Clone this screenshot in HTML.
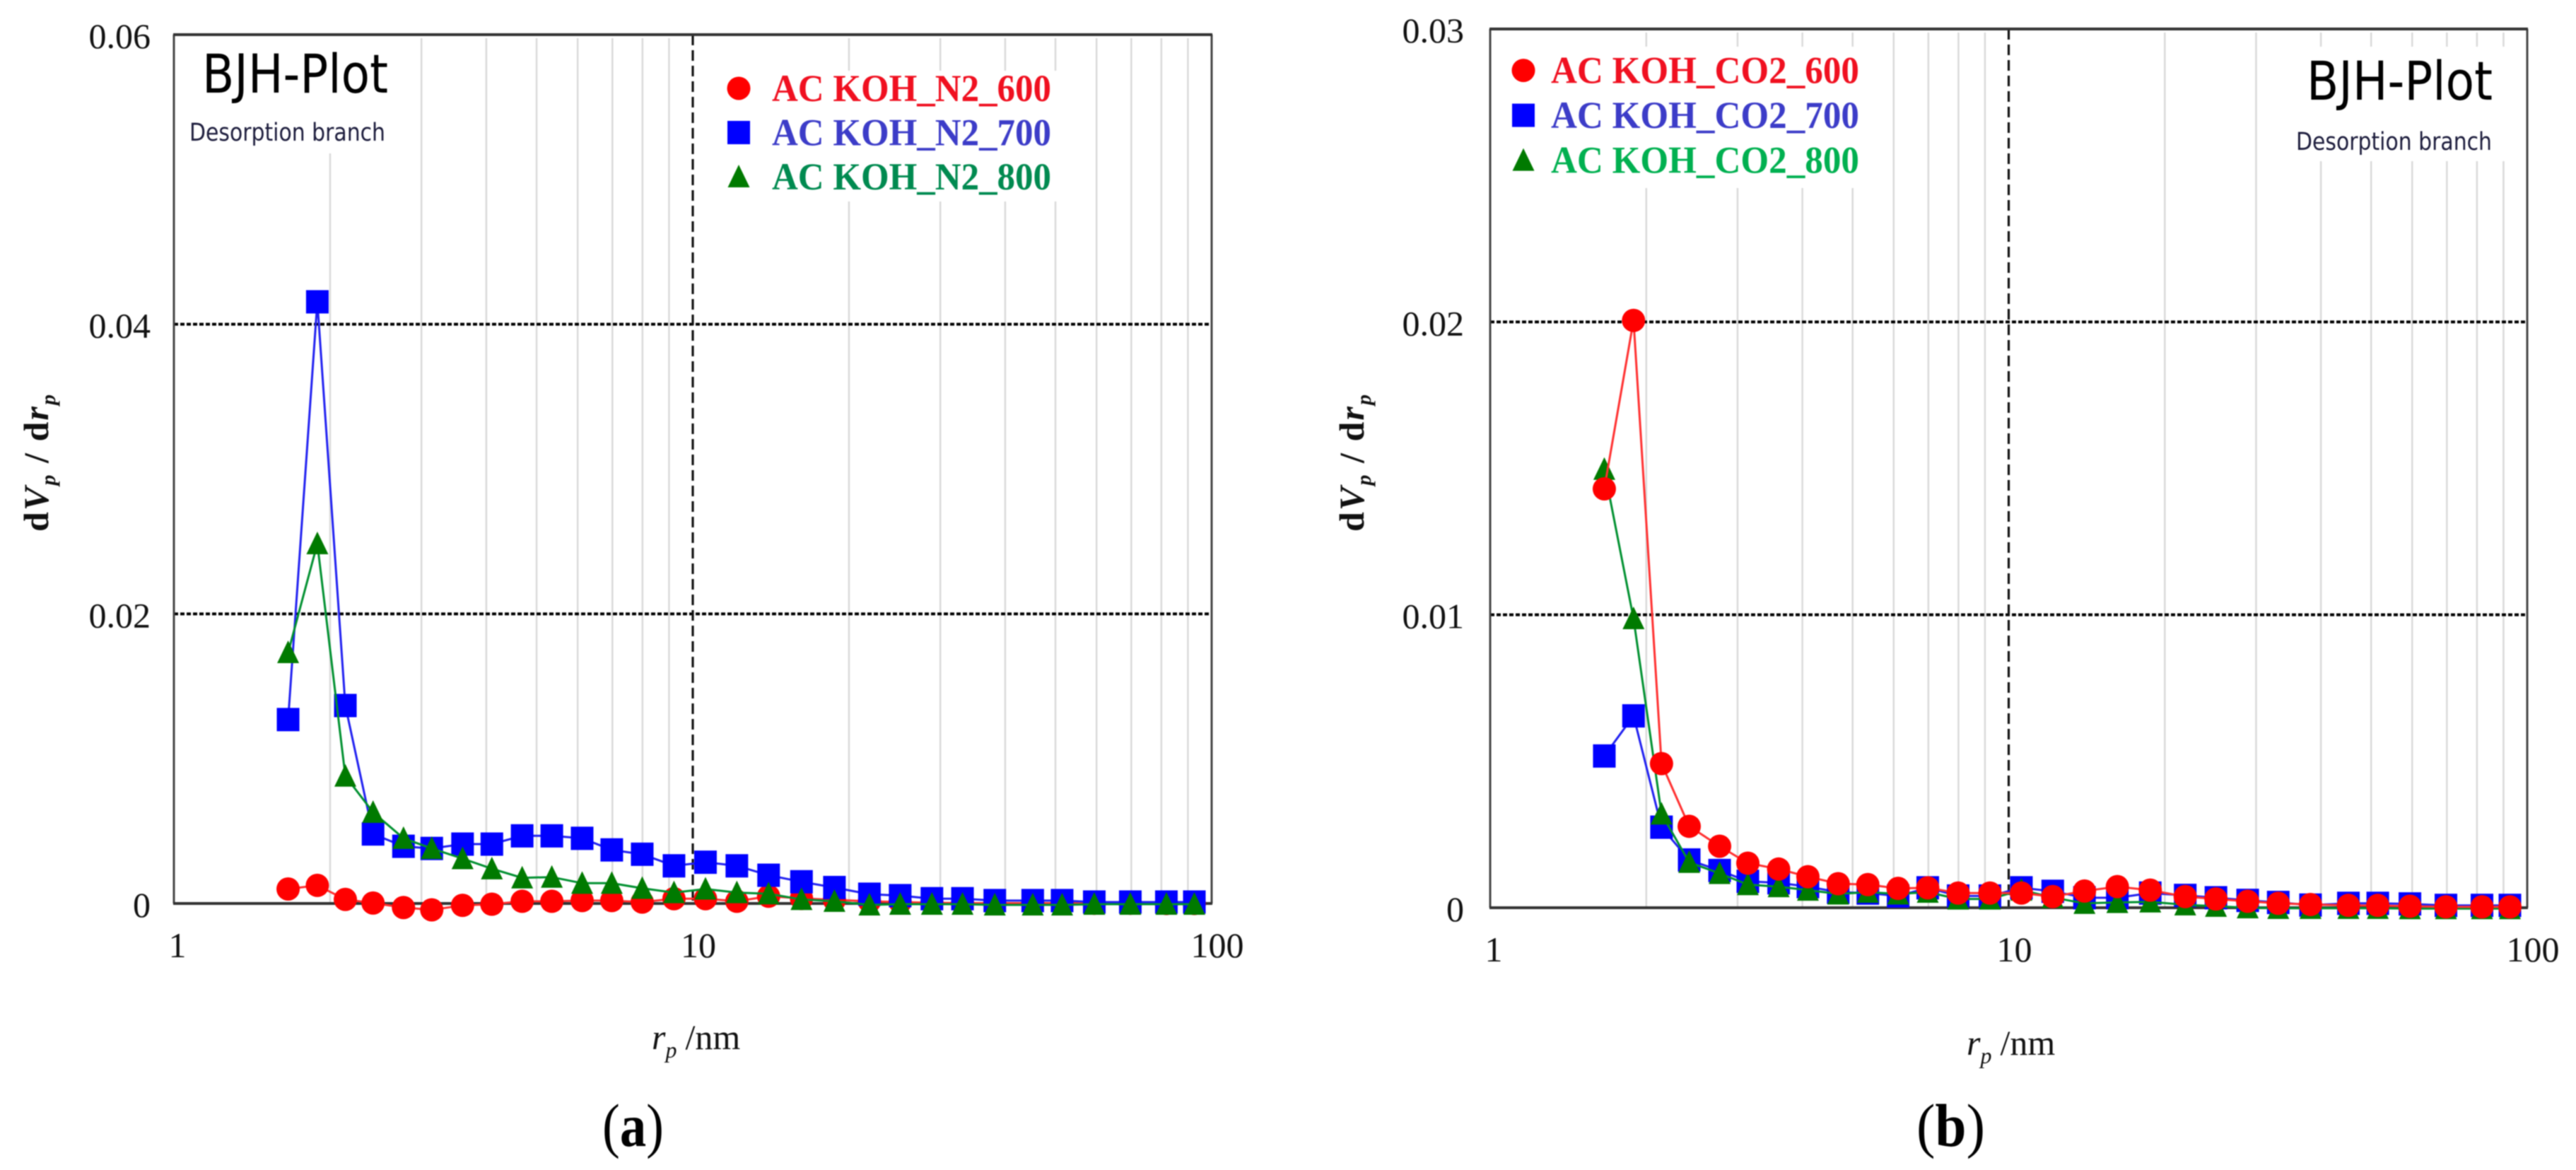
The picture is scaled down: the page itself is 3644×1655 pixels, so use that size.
<!DOCTYPE html>
<html lang="en">
<head>
<meta charset="utf-8">
<title>BJH-Plot pore size distributions</title>
<style>
html,body{margin:0;padding:0;background:#fff;}
body{width:3644px;height:1655px;overflow:hidden;}
#figure{display:block;filter:blur(0.8px);}
text{font-family:"Liberation Serif",serif;}
.sans{font-family:"DejaVu Sans","Liberation Sans",sans-serif;}
.tick{font-size:50px;fill:#111;}
.legend{font-size:54px;font-weight:bold;}
.caption{font-size:86px;fill:#000;}
</style>
</head>
<body>
<svg id="figure" xmlns="http://www.w3.org/2000/svg" width="3644" height="1655" viewBox="0 0 3644 1655">
  <rect width="3644" height="1655" fill="#fff"/>
  <g id="panel-a"></g>
  <g id="panel-b"></g>

  <text class="caption" x="852" y="1621" textLength="87" lengthAdjust="spacingAndGlyphs">(<tspan font-weight="bold">a</tspan>)</text>
  <text class="caption" x="2711" y="1621" textLength="97" lengthAdjust="spacingAndGlyphs">(<tspan font-weight="bold">b</tspan>)</text>

  <text transform="translate(68,752) rotate(-90)" font-size="50" font-weight="bold" textLength="194" fill="#111">d<tspan font-style="italic">V</tspan><tspan font-style="italic" font-size="30" dy="10">p</tspan><tspan dy="-10" xml:space="preserve"> / d</tspan><tspan font-style="italic">r</tspan><tspan font-style="italic" font-size="30" dy="10">p</tspan></text>
  <text transform="translate(1929,752) rotate(-90)" font-size="50" font-weight="bold" textLength="194" fill="#111">d<tspan font-style="italic">V</tspan><tspan font-style="italic" font-size="30" dy="10">p</tspan><tspan dy="-10" xml:space="preserve"> / d</tspan><tspan font-style="italic">r</tspan><tspan font-style="italic" font-size="30" dy="10">p</tspan></text>

  <text x="922" y="1484" font-size="50" fill="#111"><tspan font-style="italic">r</tspan><tspan font-style="italic" font-size="32" dy="12">p</tspan><tspan dy="-12" dx="12">/nm</tspan></text>
  <text x="2782" y="1492" font-size="50" fill="#111"><tspan font-style="italic">r</tspan><tspan font-style="italic" font-size="32" dy="12">p</tspan><tspan dy="-12" dx="12">/nm</tspan></text>
</svg>

<script>
// Pore radius categories shared by both panels (nm)
const poreRadius = [1.66,1.89,2.14,2.42,2.77,3.14,3.6,4.1,4.69,5.35,6.12,6.98,7.99,9.2,10.58,12.16,14,16.2,18.75,21.9,25.1,28.9,33.1,38.2,45.2,51.5,59.4,69.7,81.8,92.6];

// Panel (a) series
const n2Series600 = [0.001,0.00125,0.00028,0.00003,-0.00028,-0.00044,-0.00013,-0.00005,0.00015,0.00015,0.0002,0.0002,0.0001,0.00033,0.00033,0.00015,0.0005,0.00035,0.00025,0.00015,0.0001,0.00005,0.00003,0.00002,0.00002,0.00002,0.00001,0.00001,0,0];
const n2Series700 = [0.0127,0.04155,0.01367,0.0048,0.00395,0.0038,0.0041,0.0041,0.00467,0.00467,0.0045,0.0037,0.0034,0.0026,0.00285,0.0026,0.00195,0.0015,0.0011,0.00064,0.00054,0.00033,0.00033,0.0002,0.0002,0.0002,0.0001,0.0001,0.0001,0.0001];
const n2Series800 = [0.01733,0.02485,0.0088,0.0063,0.0045,0.0038,0.0031,0.0024,0.00177,0.00182,0.0014,0.0014,0.00105,0.00075,0.001,0.00075,0.00067,0.00028,0.00015,-0.0001,-0.00005,-0.00005,-0.00005,-0.0001,-0.0001,-0.0001,-0.00005,-0.00005,-0.00005,-0.00005];

// Panel (b) series
const co2Series600 = [0.0143,0.02005,0.00492,0.00278,0.0021,0.00152,0.00132,0.00106,0.00082,0.00079,0.00066,0.00068,0.0005,0.0005,0.0005,0.00038,0.00057,0.00072,0.0006,0.00038,0.0003,0.00022,0.00015,0.00011,0.00008,0.00008,0.00005,0.00003,0.00003,0.00003];
const co2Series700 = [0.00518,0.00655,0.00275,0.00163,0.00127,0.0009,0.00085,0.00072,0.00053,0.0005,0.0004,0.00068,0.0004,0.0004,0.00068,0.00056,0.00034,0.00034,0.0005,0.00042,0.00034,0.00025,0.00018,0.00009,0.00015,0.00015,0.00013,0.00008,0.00008,0.00008];
const co2Series800 = [0.01497,0.00987,0.0032,0.00155,0.00117,0.00079,0.00072,0.0006,0.00047,0.00053,0.00047,0.00053,0.0003,0.0003,0.0006,0.00035,0.00015,0.00018,0.0002,0.0001,0.00005,0,-0.00002,-0.00002,-0.00002,-0.00002,-0.00003,-0.00003,-0.00003,-0.00003];

// Axis ticks
const xTickValues = [1,10,100];
const xTickLabels = ['1','10','100'];
const yTickValuesA = [0,0.02,0.04,0.06];
const yTickLabelsA = ['0','0.02','0.04','0.06'];
const yTickValuesB = [0,0.01,0.02,0.03];
const yTickLabelsB = ['0','0.01','0.02','0.03'];
const minorDecadeSteps = [2,3,4,5,6,7,8,9];
const minorDecades = [1,10];

// Legend labels
const legendLabelsA = ['AC KOH_N2_600','AC KOH_N2_700','AC KOH_N2_800'];
const legendLabelsB = ['AC KOH_CO2_600','AC KOH_CO2_700','AC KOH_CO2_800'];

const SVGNS = 'http://www.w3.org/2000/svg';
const RED = '#ff0000', BLUE = '#0000ff', GREEN = '#007a00';

function make(parent, tag, attrs) {
  const el = document.createElementNS(SVGNS, tag);
  for (const k in attrs) el.setAttribute(k, attrs[k]);
  parent.appendChild(el);
  return el;
}

function drawMarker(group, shape, cx, cy, color, name) {
  let el;
  if (shape === 'circle') {
    el = make(group, 'circle', {cx: cx, cy: cy, r: 16.5, fill: color});
  } else if (shape === 'square') {
    el = make(group, 'rect', {x: cx - 16, y: cy - 16.5, width: 32, height: 33, fill: color});
  } else {
    el = make(group, 'polygon', {points: (cx) + ',' + (cy - 17) + ' ' + (cx + 15.5) + ',' + (cy + 15) + ' ' + (cx - 15.5) + ',' + (cy + 15), fill: color});
  }
  
  
  return el;
}

function drawPanel(p) {
  const root = document.getElementById(p.id);
  const xScale = v => p.left + (Math.log10(v) / 2) * (p.right - p.left);
  const yScale = v => p.bottom - (v / p.yMax) * (p.bottom - p.top);

  // minor log gridlines
  minorDecades.forEach(d => minorDecadeSteps.forEach(s => {
    const x = xScale(d * s);
    const g = make(root, 'line', {x1: x, x2: x, y1: p.top + 5, y2: p.bottom, stroke: '#d9d9d9', 'stroke-width': 2.5});
    
    
  }));

  // white boxes behind the annotation text
  p.masks.forEach(m => {
    const r = make(root, 'rect', {x: m[0], y: m[1], width: m[2], height: m[3], fill: '#fff'});
    
    
  });

  // major gridlines
  p.yTicks.forEach(v => {
    if (v === 0 || v === p.yMax) return;
    const y = yScale(v);
    const g = make(root, 'line', {x1: p.left, x2: p.right, y1: y, y2: y, stroke: '#000', 'stroke-width': 4, 'stroke-dasharray': '6 3'});
    
    
  });
  const x10 = xScale(10);
  const v10 = make(root, 'line', {x1: x10, x2: x10, y1: p.top, y2: p.bottom, stroke: '#111', 'stroke-width': 3.2, 'stroke-dasharray': '15 7'});
  
  

  // plot frame
  const sides = make(root, 'path', {d: 'M' + p.left + ' ' + p.bottom + 'V' + p.top + 'M' + p.right + ' ' + p.top + 'V' + p.bottom, stroke: '#444', 'stroke-width': 3, fill: 'none'});
  
  
  const topEdge = make(root, 'line', {x1: p.left - 1, x2: p.right + 1, y1: p.top, y2: p.top, stroke: '#333', 'stroke-width': 4});
  
  
  const xAxis = make(root, 'line', {x1: p.left - 1, x2: p.right + 1, y1: p.bottom, y2: p.bottom, stroke: '#333', 'stroke-width': 4});
  
  

  // tick labels
  p.yTicks.forEach((v, i) => {
    const t = make(root, 'text', {x: p.yLabelRight, y: yScale(v) + 19, 'text-anchor': 'end', class: 'tick'});
    t.textContent = p.yLabels[i];
    
    
  });
  xTickValues.forEach((v, i) => {
    const off = v === 1 ? 5 : 8;
    const t = make(root, 'text', {x: xScale(v) + off, y: p.bottom + 76, 'text-anchor': 'middle', class: 'tick'});
    t.textContent = xTickLabels[i];
    
    
  });

  // series
  p.series.forEach(s => {
    const g = make(root, 'g', {});
    
    
    const pts = s.values.map((v, i) => xScale(poreRadius[i]).toFixed(1) + ',' + yScale(v).toFixed(1)).join(' ');
    const line = make(g, 'polyline', {points: pts, fill: 'none', stroke: s.lineColor, 'stroke-width': 3});
    
    
    s.values.forEach((v, i) => drawMarker(g, s.shape, xScale(poreRadius[i]), yScale(v), s.color, s.name + '-point'));
  });

  // legend
  p.legend.labels.forEach((label, i) => {
    const y = p.legend.y0 + i * p.legend.dy;
    const s = p.legend.styles[i];
    const g = make(root, 'g', {});
    
    
    drawMarker(g, s.shape, p.legend.markerX, y - 1, s.color, 'legend-marker');
    const t = make(g, 'text', {x: p.legend.textX, y: y + 17, class: 'legend', fill: s.textColor, textLength: p.legend.width, lengthAdjust: 'spacingAndGlyphs'});
    t.textContent = label;
    
    
  });

  // annotations
  const title = make(root, 'text', {x: p.titleX, y: p.titleY, class: 'sans', 'font-size': 76, fill: '#000', textLength: 263, lengthAdjust: 'spacingAndGlyphs'});
  title.textContent = 'BJH-Plot';
  
  
  const sub = make(root, 'text', {x: p.subX, y: p.subY, class: 'sans', 'font-size': 35, fill: '#1c1c3c', textLength: 277, lengthAdjust: 'spacingAndGlyphs'});
  sub.textContent = 'Desorption branch';
  
  
}

drawPanel({
  id: 'panel-a', left: 246, right: 1714, top: 49, bottom: 1278, yMax: 0.06,
  yTicks: yTickValuesA, yLabels: yTickLabelsA, yLabelRight: 213,
  masks: [[262, 54, 330, 163], [1020, 100, 480, 185]],
  series: [
    {name: 'series-n2-600', values: n2Series600, shape: 'circle', color: RED, lineColor: '#ff3030'},
    {name: 'series-n2-700', values: n2Series700, shape: 'square', color: BLUE, lineColor: '#2020f0'},
    {name: 'series-n2-800', values: n2Series800, shape: 'triangle', color: GREEN, lineColor: '#009030'}
  ],
  legend: {labels: legendLabelsA, y0: 126, dy: 62.5, markerX: 1045, textX: 1092, width: 395,
    styles: [{shape: 'circle', color: RED, textColor: '#f01020'}, {shape: 'square', color: BLUE, textColor: '#3c3cc8'}, {shape: 'triangle', color: GREEN, textColor: '#008a50'}]},
  titleX: 286, titleY: 131, subX: 268, subY: 199
});

drawPanel({
  id: 'panel-b', left: 2108, right: 3575, top: 41, bottom: 1284, yMax: 0.03,
  yTicks: yTickValuesB, yLabels: yTickLabelsB, yLabelRight: 2071,
  masks: [[2135, 66, 510, 200], [3240, 66, 322, 162]],
  series: [
    {name: 'series-co2-700', values: co2Series700, shape: 'square', color: BLUE, lineColor: '#2020f0'},
    {name: 'series-co2-800', values: co2Series800, shape: 'triangle', color: GREEN, lineColor: '#009030'},
    {name: 'series-co2-600', values: co2Series600, shape: 'circle', color: RED, lineColor: '#ff3030'}
  ],
  legend: {labels: legendLabelsB, y0: 100.6, dy: 63.5, markerX: 2155, textX: 2194, width: 436,
    styles: [{shape: 'circle', color: RED, textColor: '#f01020'}, {shape: 'square', color: BLUE, textColor: '#3c3cc8'}, {shape: 'triangle', color: GREEN, textColor: '#00b050'}]},
  titleX: 3263, titleY: 141, subX: 3248, subY: 212
});
</script>
</body>
</html>
